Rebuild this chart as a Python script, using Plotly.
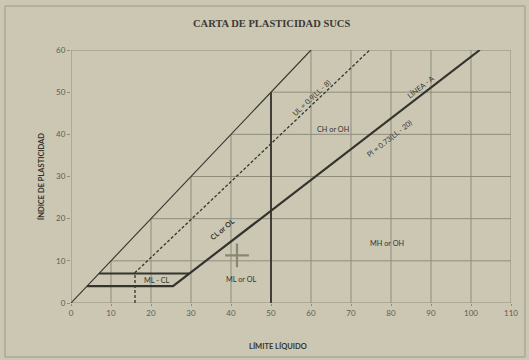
import plotly.graph_objects as go

# Carta de plasticidad (Casagrande / SUCS)
ticks_ll = [0, 10, 20, 30, 40, 50, 60, 70, 80, 90, 100, 110]
ticks_ip = [0, 10, 20, 30, 40, 50, 60]

# Límites de la carta
ll_linea_ipll = [0, 60]
ip_linea_ipll = [0, 60]

ll_linea_a = [4, 25.5, 102.2]
ip_linea_a = [4, 4, 60]

ll_tramo_7 = [7, 29.6]
ip_tramo_7 = [7, 7]

ll_linea_u = [16, 16, 74.7]
ip_linea_u = [0, 7.2, 60]

ll_limite_50 = [50, 50]
ip_limite_50 = [0, 50]

# Muestra ensayada
ll_muestra = [41.5]
ip_muestra = [11.3]

FONDO = "#cbc7b3"
TINTA = "#34332e"
REJILLA = "#8f8c7c"
GRIS_TXT = "#5d5b52"

# geometría del área de trazado (px)
IZQ, DER, ARR, ABA = 71, 18, 50, 57
ANCHO, ALTO = 529, 360
W_AREA = ANCHO - IZQ - DER
H_AREA = ALTO - ARR - ABA


def px_a_papel(px, py):
    return (px - IZQ) / W_AREA, 1 + (ARR - py) / H_AREA


fig = go.Figure()

# Rejilla solo bajo la línea IP = LL
gx, gy = [], []
for k in ticks_ll[1:-1]:
    gx += [k, k, None]
    gy += [0, min(k, 60), None]
for k in ticks_ip[1:-1]:
    gx += [k, ticks_ll[-1], None]
    gy += [k, k, None]
# marco del área
gx += [0, 0, ticks_ll[-1], ticks_ll[-1], 0]
gy += [0, 60, 60, 0, 0]
fig.add_trace(go.Scatter(x=gx, y=gy, mode="lines",
                         line=dict(color=REJILLA, width=1), hoverinfo="skip"))

fig.add_trace(go.Scatter(x=ll_linea_ipll, y=ip_linea_ipll, mode="lines",
                         line=dict(color=TINTA, width=1.1)))
fig.add_trace(go.Scatter(x=ll_linea_u, y=ip_linea_u, mode="lines",
                         line=dict(color=TINTA, width=1.3, dash="3px,2px")))
fig.add_trace(go.Scatter(x=ll_linea_a, y=ip_linea_a, mode="lines",
                         line=dict(color=TINTA, width=2.2)))
fig.add_trace(go.Scatter(x=ll_tramo_7, y=ip_tramo_7, mode="lines",
                         line=dict(color=TINTA, width=2)))
fig.add_trace(go.Scatter(x=ll_limite_50, y=ip_limite_50, mode="lines",
                         line=dict(color=TINTA, width=1.8)))
fig.add_trace(go.Scatter(x=ll_muestra, y=ip_muestra, mode="markers",
                         marker=dict(symbol="cross-thin", size=17,
                                     line=dict(color="#8a8675", width=2.2))))

fz = dict(family="Lato, Open Sans, sans-serif", size=7.3, color=TINTA)
etiquetas = [
    ("CH or OH", 65.5, 41.2, 0),
    ("MH or OH", 79, 14.2, 0),
    ("ML or OL", 42.7, 5.6, 0),
    ("ML - CL", 21.6, 5.3, 0),
    ("<b>CL or OL</b>", 37.8, 17.5, -40),
    ("UL = 0.9(LL - 8)", 60, 48.6, -43),
    ("LÍNEA - A", 87.3, 51.2, -38),
    ("PI = 0.73(LL - 20)", 79.7, 39.0, -38),
]
for txt, x, y, ang in etiquetas:
    fig.add_annotation(x=x, y=y, text=txt, showarrow=False, textangle=ang,
                       font=fz, xref="x", yref="y")

tx, ty = px_a_papel(271, 24)
fig.add_annotation(text="<b>CARTA DE PLASTICIDAD SUCS</b>", x=tx, y=ty,
                   xref="paper", yref="paper", showarrow=False,
                   xanchor="center", yanchor="middle",
                   font=dict(family="Liberation Serif, serif", size=10.5, color="#3b3a34"))

# título del eje horizontal
ax, ay = px_a_papel(278, 346)
fig.add_annotation(text="<b>LÍMITE LÍQUIDO</b>", x=ax, y=ay,
                   xref="paper", yref="paper", showarrow=False,
                   xanchor="center", yanchor="middle",
                   font=dict(family="Lato, sans-serif", size=7.5, color=TINTA))

fig.update_layout(
    width=ANCHO, height=ALTO,
    margin=dict(l=IZQ, r=DER, t=ARR, b=ABA),
    paper_bgcolor=FONDO, plot_bgcolor=FONDO,
    showlegend=False,
    xaxis=dict(range=[0, 110], tickvals=ticks_ll, showgrid=False, zeroline=False,
               showline=False, ticks="outside", ticklen=2, tickcolor=REJILLA,
               tickfont=dict(family="Lato, sans-serif", size=8, color=GRIS_TXT)),
    yaxis=dict(range=[0, 60], tickvals=ticks_ip, showgrid=False, zeroline=False,
               showline=False, ticks="outside", ticklen=3, tickcolor=REJILLA,
               tickfont=dict(family="Lato, sans-serif", size=8, color=GRIS_TXT),
               title=dict(text="<b>ÍNDICE DE PLASTICIDAD</b>", standoff=10,
                          font=dict(family="Lato, sans-serif", size=7.5, color=TINTA))),
)

# marco exterior de la lámina
x0, y1 = px_a_papel(5, 6)
x1, y0 = px_a_papel(525, 357)
fig.add_shape(type="rect", xref="paper", yref="paper",
              x0=x0, x1=x1, y0=y0, y1=y1,
              line=dict(color="#9d998a", width=1))

fig.write_html("out.html")
